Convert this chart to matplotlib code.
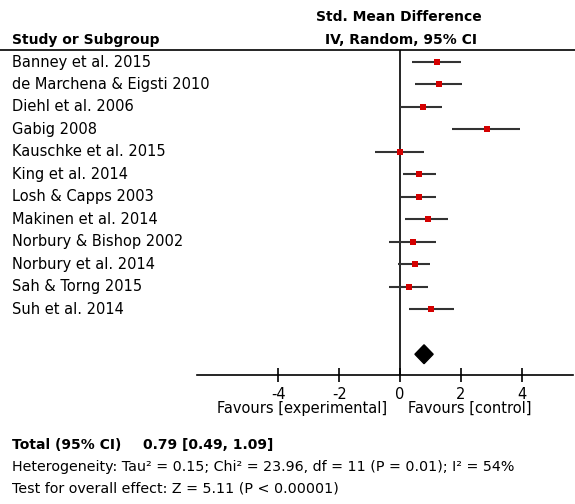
import numpy as np
import matplotlib
matplotlib.use("Agg")
import matplotlib.pyplot as plt
from matplotlib.lines import Line2D
from matplotlib.patches import Polygon
from matplotlib.transforms import blended_transform_factory

plt.rcParams['font.family'] = ['DejaVu Sans']

studies = ["Banney et al. 2015", "de Marchena & Eigsti 2010", "Diehl et al. 2006",
           "Gabig 2008", "Kauschke et al. 2015", "King et al. 2014",
           "Losh & Capps 2003", "Makinen et al. 2014", "Norbury & Bishop 2002",
           "Norbury et al. 2014", "Sah & Torng 2015", "Suh et al. 2014"]
smd = [1.23, 1.29, 0.75, 2.86, -0.01, 0.64, 0.64, 0.91, 0.42, 0.49, 0.29, 1.02]
ci_low = [0.40, 0.49, 0.00, 1.70, -0.83, 0.09, 0.02, 0.18, -0.37, -0.05, -0.37, 0.29]
ci_high = [1.99, 2.05, 1.39, 3.95, 0.80, 1.18, 1.18, 1.59, 1.18, 1.00, 0.91, 1.79]
ticks = [-4, -2, 0, 2, 4]

total_est = 0.79
total_low = 0.49
total_high = 1.09

FS = 10.5
FS_B = 10

W, H = 575, 504
fig = plt.figure(figsize=(W / 100, H / 100), dpi=100)

# forest panel: 0 sits at x=400px, 30.43px per unit; rows 22.48px apart
x_left, x_right = 197, 573
y_top, y_bot = 50, 375
ax = fig.add_axes([x_left / W, 1 - y_bot / H, (x_right - x_left) / W, (y_bot - y_top) / H])
ax.set_xlim(-(400 - x_left) / 30.43, (x_right - 400) / 30.43)
ax.set_ylim((y_bot - 62) / 22.48, (y_top - 62) / 22.48)

for s in ["top", "left", "right"]:
    ax.spines[s].set_visible(False)
ax.spines["bottom"].set_linewidth(1.2)
ax.set_yticks([])
ax.set_xticks(ticks)
ax.set_xticklabels([str(t) for t in ticks], fontsize=FS)
ax.tick_params(axis="x", direction="inout", length=10, width=1.2, pad=3.5)
ax.axvline(0, color="black", lw=1.2)

rows = np.arange(len(studies))
ax.hlines(rows, ci_low, ci_high, color="#333333", lw=1.5)
ax.plot(smd, rows, "s", color="#d40000", markersize=4, markeredgewidth=0)

# pooled estimate diamond
yd = len(studies) + 1
h = 0.42
diamond = Polygon([(total_low, yd), (total_est, yd - h), (total_high, yd), (total_est, yd + h)],
                  closed=True, facecolor="black", edgecolor="black")
ax.add_patch(diamond)

tr = blended_transform_factory(fig.transFigure, ax.transData)
for i, name in enumerate(studies):
    ax.text(12 / W, i, name, transform=tr, ha="left", va="center", fontsize=FS, clip_on=False)


def px(x, y):
    return x / W, 1 - y / H


fig.text(*px(12, 40), "Study or Subgroup", ha="left", va="center", fontsize=FS_B, fontweight="bold")
fig.text(*px(399, 17), "Std. Mean Difference", ha="center", va="center", fontsize=FS_B, fontweight="bold")
fig.text(*px(401, 40), "IV, Random, 95% CI", ha="center", va="center", fontsize=FS_B, fontweight="bold")
fig.add_artist(Line2D([0, 1], [1 - y_top / H] * 2, color="black", lw=1.2, transform=fig.transFigure))

fig.text(*px(387, 408), "Favours [experimental]", ha="right", va="center", fontsize=FS)
fig.text(*px(408, 408), "Favours [control]", ha="left", va="center", fontsize=FS)

fig.text(*px(12, 445), "Total (95% CI)", ha="left", va="center", fontsize=FS_B, fontweight="bold")
fig.text(*px(143, 445), f"{total_est:.2f} [{total_low:.2f}, {total_high:.2f}]",
         ha="left", va="center", fontsize=FS_B, fontweight="bold")
fig.text(*px(12, 467), "Heterogeneity: Tau² = 0.15; Chi² = 23.96, df = 11 (P = 0.01); I² = 54%",
         ha="left", va="center", fontsize=10.3)
fig.text(*px(12, 488), "Test for overall effect: Z = 5.11 (P < 0.00001)",
         ha="left", va="center", fontsize=10.3)

fig.savefig("out.png", dpi=100)
